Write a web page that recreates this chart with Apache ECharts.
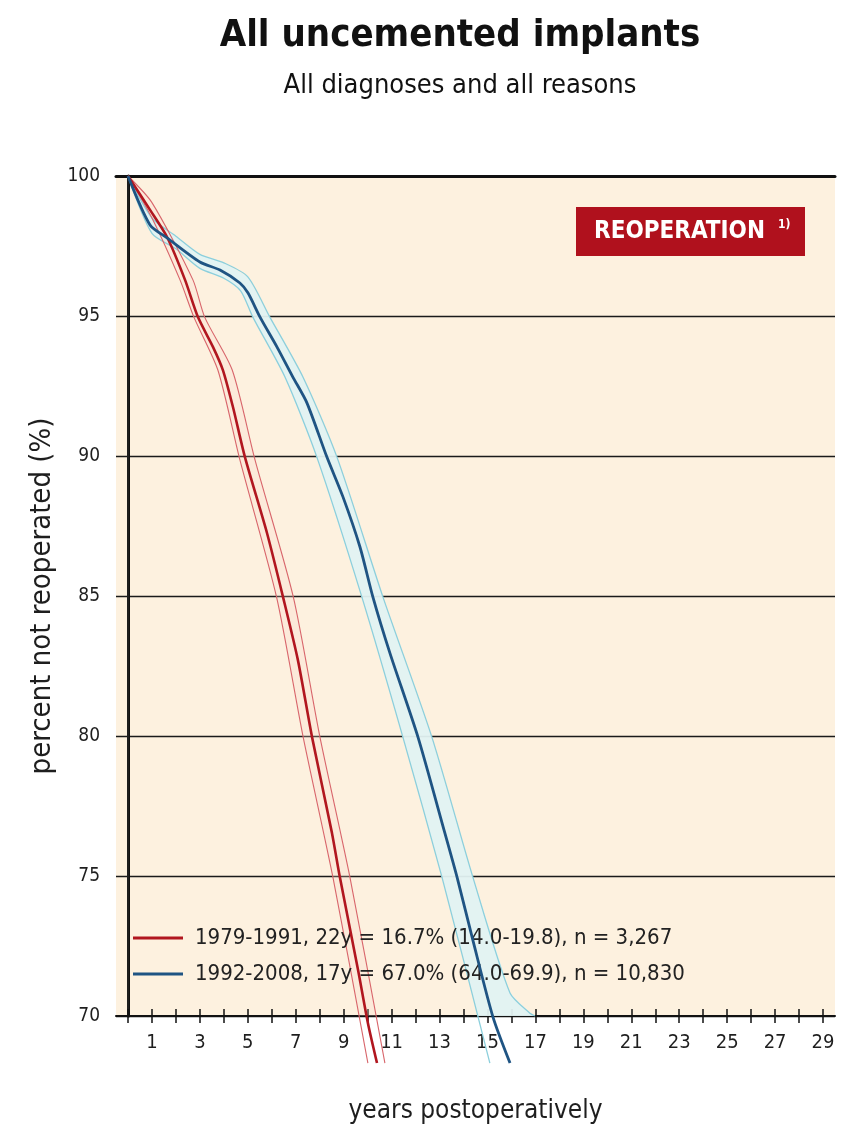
<!DOCTYPE html>
<html>
<head>
<meta charset="utf-8">
<script src="https://cdn.jsdelivr.net/npm/echarts@6/dist/echarts.min.js"></script>
<style>html,body{margin:0;padding:0;background:#fff;}#c{width:843px;height:1144px;}</style>
</head>
<body>
<div id="c"></div>
<script>
// ---- data ----
const tickYears = [0,1,2,3,4,5,6,7,8,9,10,11,12,13,14,15,16,17,18,19,20,21,22,23,24,25,26,27,28,29];
const labelYears = [1,3,5,7,9,11,13,15,17,19,21,23,25,27,29];
const yTicks = [70,75,80,85,90,95,100];

const seriesNames = [
  '1979-1991, 22y = 16.7% (14.0-19.8), n = 3,267',
  '1992-2008, 17y = 67.0% (64.0-69.9), n = 10,830'
];

const redMainX = [0,0.92,1.63,2.38,2.92,3.55,3.96,4.38,4.88,5.80,6.47,7.09,7.68,8.51,8.84,9.60,10.01,10.39];
const redMainY = [100,98.79,97.82,96.29,94.96,93.89,93.07,91.75,89.96,87.25,84.96,82.71,79.96,76.54,74.96,71.64,69.75,68.32];
const redLowX = [0,1,2.17,2.75,3.75,4.67,6.2,7.31,8.55,10.01];
const redLowY = [100,98.5,96.29,94.96,93.07,89.86,84.96,79.96,74.96,68.32];
const redUpX = [0,1,2.71,3.2,4.35,5.30,6.9,8.01,9.26,10.72];
const redUpY = [100,99.05,96.29,94.96,93.07,89.86,84.96,79.96,74.96,68.32];

const blueMainX = [0,0.92,1.63,3.00,3.84,4.67,5.01,5.51,6.22,6.88,7.47,8.30,8.97,9.68,10.22,10.93,12.10,13.22,13.73,14.39,15.23,15.94];
const blueMainY = [100,98.25,97.79,96.93,96.64,96.18,95.82,94.96,93.89,92.82,91.89,89.96,88.54,86.75,84.96,82.96,79.96,76.54,74.96,72.71,69.96,68.32];
const blueLowX = [0,1,2,3,4,4.7,5.21,6.55,7.88,9.76,11.47,13.1,15.1];
const blueLowY = [100,97.95,97.4,96.7,96.35,95.9,94.96,92.82,89.96,84.96,79.96,74.96,68.32];
const blueUpX = [0,1,2,3,4,5,5.92,7.3,8.72,10.64,12.68,14.39,15.94,16.77,16.98];
const blueUpY = [100,98.5,97.85,97.2,96.9,96.4,94.96,92.82,89.96,84.96,79.96,74.96,70.82,70.1,70.0];

// ---- helpers ----
const zip = (xs, ys) => xs.map((x, i) => [x, ys[i]]);
const FONT = "'Liberation Sans Narrow','DejaVu Sans Condensed','Arial Narrow',sans-serif";
const INK = '#1e1e1e';

const RED = '#b1161f', RED_CI = '#d8656b', RED_FILL = 'rgba(250,215,205,0.25)';
const BLUE = '#1f5483', BLUE_CI = '#8ccfdc', BLUE_FILL = 'rgba(225,242,242,0.95)';

function band(upX, upY, lowX, lowY, fill) {
  const up = zip(upX, upY), low = zip(lowX, lowY).reverse();
  return {
    type: 'custom', silent: true, clip: true, z: 1,
    xAxisIndex: 0, yAxisIndex: 0,
    data: [[0, 100]],
    renderItem: function (params, api) {
      const pts = up.concat(low).map(p => api.coord(p));
      return {
        type: 'polygon', shape: { points: pts },
        style: { fill: fill },
        clipPath: { type: 'rect', shape: { x: params.coordSys.x, y: params.coordSys.y, width: params.coordSys.width, height: params.coordSys.height } }
      };
    }
  };
}
function line(name, xs, ys, color, width, z) {
  return {
    name: name, type: 'line', data: zip(xs, ys), xAxisIndex: 0, yAxisIndex: 0,
    showSymbol: false, symbol: 'none', smooth: 0.25, clip: false, z: z, silent: true,
    lineStyle: { color: color, width: width }, itemStyle: { color: color }
  };
}

const chart = echarts.init(document.getElementById('c'), null, { renderer: 'canvas' });
chart.setOption({
  animation: false,
  backgroundColor: '#ffffff',
  grid: { left: 116, right: 8, top: 176, bottom: 128, show: true, backgroundColor: '#fdf1df', borderWidth: 0 },
  graphic: [
    { type: 'text', x: 460, y: 36, style: { text: 'All uncemented implants', font: 'bold 38px ' + FONT, fill: '#111', textAlign: 'center', textVerticalAlign: 'middle' } },
    { type: 'text', x: 460, y: 86, style: { text: 'All diagnoses and all reasons', font: '27px ' + FONT, fill: '#111', textAlign: 'center', textVerticalAlign: 'middle' } },
    { type: 'rect', shape: { x: 576, y: 207, width: 229, height: 49 }, style: { fill: '#b0111d' }, z: 10 },
    { type: 'text', x: 594, y: 232, z: 11, style: { text: 'REOPERATION', font: 'bold 24px ' + FONT, fill: '#fff', textVerticalAlign: 'middle' } },
    { type: 'text', x: 778, y: 225, z: 11, style: { text: '1)', font: 'bold 12px ' + FONT, fill: '#fff', textVerticalAlign: 'middle' } }
  ],
  legend: {
    data: seriesNames, orient: 'vertical', left: 128, top: 918,
    icon: 'rect', itemWidth: 50, itemHeight: 3, itemGap: 6,
    textStyle: { fontFamily: FONT, fontSize: 22, lineHeight: 30, color: '#222', padding: [0, 0, 0, 7] },
    selectedMode: false
  },
  xAxis: [
    {
      type: 'value', position: 'bottom', min: -0.5, max: 29.5,
      name: 'years postoperatively', nameLocation: 'middle', nameGap: 82,
      nameTextStyle: { fontFamily: FONT, fontSize: 26, color: INK },
      axisLine: { show: true, lineStyle: { color: '#111', width: 2 } },
      axisTick: { show: true, customValues: tickYears, inside: true, length: 7, lineStyle: { color: '#111', width: 1.5 } },
      axisLabel: { customValues: labelYears, margin: 17, fontFamily: FONT, fontSize: 20, color: INK },
      splitLine: { show: false }
    },
    {
      type: 'value', position: 'bottom', min: -0.5, max: 29.5,
      axisLine: { show: false },
      axisTick: { show: true, customValues: tickYears, inside: false, length: 7, lineStyle: { color: '#111', width: 1.5 } },
      axisLabel: { show: false }, splitLine: { show: false }
    },
    {
      type: 'value', position: 'top', min: -0.5, max: 29.5,
      axisLine: { show: true, lineStyle: { color: '#111', width: 3 } },
      axisTick: { show: false }, axisLabel: { show: false }, splitLine: { show: false }
    }
  ],
  yAxis: [
    {
      type: 'value', min: 70, max: 100, interval: 5, position: 'left',
      name: 'percent not reoperated (%)', nameLocation: 'middle', nameGap: 54, nameRotate: 90,
      nameTextStyle: { fontFamily: FONT, fontSize: 29, color: INK },
      axisLine: { show: true, lineStyle: { color: '#111', width: 3 } },
      axisTick: { show: false },
      axisLabel: { margin: 16, fontFamily: FONT, fontSize: 19, color: INK, customValues: yTicks },
      splitLine: { show: true, lineStyle: { color: '#1a1a1a', width: 1.4 } }
    },
    {
      type: 'value', min: 70, max: 100, position: 'right',
      axisLine: { show: true, lineStyle: { color: '#222', width: 1.5 } },
      axisTick: { show: false }, axisLabel: { show: false }, splitLine: { show: false }
    }
  ],
  series: [
    band(blueUpX, blueUpY, blueLowX, blueLowY, BLUE_FILL),
    band(redUpX, redUpY, redLowX, redLowY, RED_FILL),
    line('blueUp', blueUpX, blueUpY, BLUE_CI, 1.3, 3),
    line('blueLow', blueLowX, blueLowY, BLUE_CI, 1.3, 3),
    line('redUp', redUpX, redUpY, RED_CI, 1.1, 3),
    line('redLow', redLowX, redLowY, RED_CI, 1.1, 3),
    line(seriesNames[0], redMainX, redMainY, RED, 2.6, 5),
    line(seriesNames[1], blueMainX, blueMainY, BLUE, 2.8, 5)
  ]
});
</script>
</body>
</html>
